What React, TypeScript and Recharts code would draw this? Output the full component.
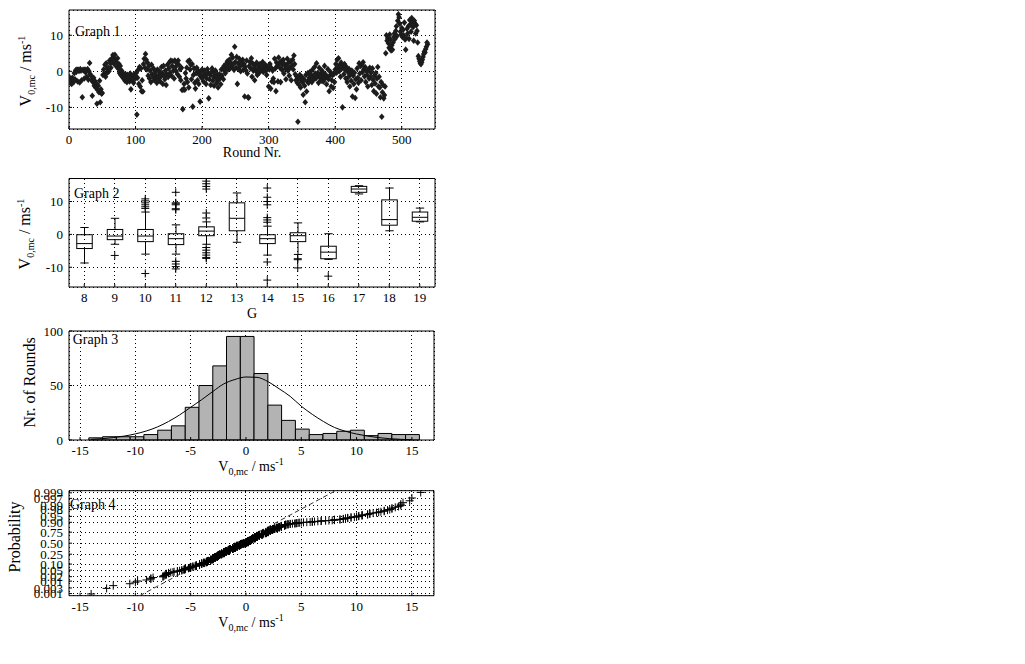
import React from "react";
import {
  ComposedChart,
  Scatter,
  Bar,
  Line,
  XAxis,
  YAxis,
  CartesianGrid,
  ReferenceArea,
  Label,
} from "recharts";

const FONT = '"Liberation Serif", "Times New Roman", Times, serif';

// Graph 1: V0,mc for every round (array index = round number)
const roundValues = [
  -1.5, -2.8, -3.2, -2.4, -3.5, -1.8, -2.6, -3.0, -0.5, -2.2,
  0.3, -0.2, 0.5, -2.8, 0.4, 0.1, -3.1, 0.6, 0.2, -2.5,
  -7.2, 0.4, 0.3, -2.0, 0.5, -0.3, 0.2, -1.5, 0.6, -2.3,
  0.0, 2.3, -0.8, -1.2, -2.5, -6.8, -3.0, -1.8, -4.0, -2.7,
  -4.5, -3.4, -9.0, -5.2, -4.0, -5.8, -2.6, -8.6, -5.0, -6.2,
  -6.0, -1.0, 0.5, -0.8, 1.8, -1.5, 2.2, 0.8, -0.3, 1.0,
  0.0, 3.0, 2.2, 1.0, 3.5, 2.6, 4.5, 3.8, 2.0, 4.6,
  3.2, 2.5, 1.2, 3.6, 0.8, 2.0, -0.5, 1.5, -1.0, 0.2,
  -1.5, -0.4, -2.0, -1.2, -2.6, -0.8, -1.8, -3.0, -1.0, -2.2,
  -1.6, -2.8, -0.6, -5.0, -1.9, -2.4, -1.2, -3.2, -0.8, -1.5,
  -2.0, -0.5, -12.0, -1.8, 0.4, -3.5, 1.2, -4.2, 0.8, -5.5,
  -2.5, -5.6, 2.0, 3.5, 1.0, 4.8, 3.2, 0.5, 2.4, -1.2,
  1.5, -2.0, 0.2, -3.0, 1.8, -0.8, -1.4, 0.8, -2.5, -1.0,
  -0.2, -1.8, -3.2, 0.5, -2.0, -1.0, 0.0, -2.8, -1.5, 1.2,
  -0.5, -3.5, 1.5, -1.2, -2.2, 0.2, -3.8, -0.8, 1.8, -1.6,
  0.8, 2.5, -0.4, 3.0, -1.2, 1.5, 2.8, 0.2, -2.0, 3.0,
  1.2, 0.0, 2.2, -0.8, 3.0, 1.8, -1.5, 0.6, -2.5, 1.0,
  -5.2, -10.5, -5.0, -3.5, -5.1, -0.5, -2.0, 1.0, -3.0, 2.8,
  -4.5, 3.0, 0.5, 1.8, -2.2, 2.0, -9.8, -1.0, 0.8, -3.2,
  -4.8, -0.5, 1.0, -2.5, 0.2, -3.5, -1.0, -8.4, -0.2, -1.8,
  0.5, -1.5, -2.8, -0.8, 0.2, -1.2, -3.5, -2.0, 0.6, -0.5,
  -7.5, -2.2, -1.0, -3.8, -0.2, 0.8, -2.6, -1.5, -4.0, -0.6,
  0.2, -2.0, -3.2, -1.0, -4.5, -2.4, -0.8, -1.8, -3.6, 0.5,
  -1.2, 0.8, -2.2, 1.5, 0.2, -0.5, 2.0, 1.0, 2.8, 0.5,
  1.6, 3.2, 0.8, 2.4, 4.6, 1.2, 3.8, 2.0, 0.4, 6.8,
  2.6, 1.0, 4.0, -3.5, 2.2, 0.6, 3.5, 1.4, 0.0, 2.8,
  1.8, 3.2, 0.4, 2.0, -7.0, 1.2, 0.2, 3.0, -0.6, -7.2,
  -7.3, 1.5, 2.6, 0.8, 3.6, -1.5, 2.2, 0.2, 1.0, -2.5,
  1.8, 0.0, 2.4, -1.0, 0.8, 1.5, -0.4, 2.0, 1.2, 0.4,
  1.0, 2.6, -0.2, 1.4, 0.6, 1.8, 0.2, -1.0, 1.2, 0.8,
  -4.2, 0.5, 2.0, -4.8, 1.0, -2.8, 0.2, -2.0, -3.0, 3.5,
  0.8, -5.5, 2.4, 1.5, -2.8, 3.8, 2.2, 1.0, -3.0, 2.8,
  0.4, 1.8, 3.2, -0.6, 2.0, 0.8, -2.2, 1.5, 3.5, 0.2,
  2.4, -1.2, 1.0, 2.8, -2.5, 1.6, 3.2, 0.5, 4.4, 2.0,
  -0.8, -2.5, -1.4, -3.2, -14.0, -2.0, -3.8, -1.0, -4.5, -2.6,
  -1.6, -3.0, -6.5, -2.2, -4.0, -8.6, -1.0, -5.6, -2.8, -0.5,
  -3.2, -1.8, -0.2, -2.4, -1.0, -3.0, 0.5, -1.6, -2.2, 1.2,
  -0.6, -2.0, 2.2, -1.2, -0.4, -3.2, 1.0, -1.8, -0.8, -2.6,
  0.2, -1.4, -2.8, -0.6, 1.5, -2.0, -1.0, -3.6, -1.6, 0.6,
  -2.2, -5.5, -1.2, -0.2, -4.2, -2.5, -1.0, -4.6, -0.8, -3.0,
  0.5, 2.0, -0.4, 3.2, 1.0, 3.6, 0.0, 1.8, -1.5, 2.4,
  0.8, -10.0, 1.5, -0.8, 2.0, 0.4, -2.0, 1.2, -3.0, -0.2,
  -1.6, 0.6, -4.2, -0.8, -2.6, 0.2, -7.0, -1.2, -3.5, -0.4,
  -7.4, -2.2, -5.0, 0.8, -1.8, -3.2, 2.2, -0.6, 1.5, -2.5,
  1.8, -0.2, 2.5, 0.6, -1.4, 1.2, -3.0, 0.0, -1.0, -4.2,
  0.4, -2.0, 1.0, -1.6, -0.4, -3.8, 0.8, -2.4, -5.5, -1.2,
  -3.4, -0.5, -6.2, -2.0, 1.2, -4.2, -1.5, -4.5, -7.2, -3.0,
  -12.6, -5.8, -3.8, -7.5, -6.6, -4.2, 5.0, 10.0, 8.5, 9.2,
  7.8, 6.5, 10.2, 8.8, 5.8, 7.2, 6.0, 8.0, 9.5, 10.5,
  9.0, 11.2, 12.5, 9.8, 14.0, 15.8, 15.0, 13.2, 11.0, 10.2,
  12.0, 9.5, 11.5, 10.0, 13.5, 8.8, 6.0, 9.2, 11.8, 10.5,
  12.5, 9.0, 14.2, 13.0, 11.0, 14.8, 13.8, 12.2, 8.5, 14.0,
  13.2, 10.5, 12.8, 11.2, 8.0, 4.2, 3.5, 2.8, 2.2, 2.0,
  2.5, 3.2, 4.0, 4.8, 5.5, 5.2, 6.2, 6.8, 8.0, 7.5,
];

// Graph 2: box plot per G
const gValues = [8, 9, 10, 11, 12, 13, 14, 15, 16, 17, 18, 19];
const whiskerHigh = [2.1, 4.9, 6.8, 2.9, 3.8, 12.6, 2.5, 3.5, 0.2, 14.8, 14.1, 8.0];
const q3 = [-0.1, 1.5, 1.5, 0.2, 2.3, 9.6, -0.1, 0.5, -3.6, 14.6, 10.5, 6.8];
const median = [-2.8, -0.5, -0.5, -1.3, 1.0, 4.9, -1.3, -0.4, -5.4, 13.8, 4.5, 5.2];
const q1 = [-4.3, -1.6, -2.2, -3.1, -0.4, 1.1, -2.8, -2.2, -7.4, 12.8, 2.8, 4.0];
const whiskerLow = [-8.7, -3.0, -6.0, -6.0, -3.0, -2.4, -6.3, -6.1, -7.6, 12.3, 1.1, 3.8];
const outliers: [number, number][] = [
  [9, -6.4],
  [10, 10.8], [10, 10.2], [10, 9.6], [10, 9.0], [10, 8.4], [10, 7.9], [10, -11.9],
  [11, 12.8], [11, 9.6], [11, 9.3], [11, 9.0], [11, 7.8], [11, 7.5],
  [11, -8.2], [11, -9.0], [11, -9.8], [11, -10.5],
  [12, 16.2], [12, 15.4], [12, 14.6], [12, 13.8], [12, 6.5], [12, 5.0],
  [12, -4.0], [12, -4.8], [12, -5.6], [12, -6.3], [12, -7.0], [12, -7.3],
  [14, 14.1], [14, 11.3], [14, 10.0], [14, 9.0], [14, 5.1], [14, 4.4], [14, 3.7],
  [14, -8.4], [14, -13.9],
  [15, -7.4], [15, -7.7], [15, -10.2],
  [16, -12.7],
];

// Graph 3: histogram and fitted curve
const binEdges = [
  -14.21, -12.96, -11.72, -10.47, -9.23, -7.98, -6.74, -5.49, -4.25, -3.0, -1.76, -0.51, 0.73,
  1.98, 3.22, 4.47, 5.72, 6.96, 8.21, 9.45, 10.7, 11.94, 13.19, 14.43, 15.68,
];
const binCounts = [2, 3, 3, 3, 5, 9, 13, 30, 50, 68, 95, 95, 61, 32, 18, 10, 5, 6, 8, 9, 4, 6, 5, 5];
const curveX = [-14, -13, -12, -11, -10, -9, -8, -7, -6, -5, -4, -3, -2, -1, 0, 1, 2, 3, 4, 5, 6, 7, 8, 9, 10, 11, 12, 13, 14, 15];
const curveY = [0.6, 1.2, 2.2, 3.6, 5.6, 8.3, 12, 17, 23, 30, 37, 44.5, 51.5, 55.5, 57.8, 57.5, 53.5, 47, 40, 31, 23.5, 17, 11.5, 8, 5.5, 3.6, 2.2, 1.2, 0.6, 0.3];

// Graph 4: normal probability plot
const probTicks = [0.001, 0.003, 0.01, 0.02, 0.05, 0.1, 0.25, 0.5, 0.75, 0.9, 0.95, 0.98, 0.99, 0.997, 0.999];
const probLabels = ["0.001", "0.003", "0.01", "0.02", "0.05", "0.10", "0.25", "0.50", "0.75", "0.90", "0.95", "0.98", "0.99", "0.997", "0.999"];
const refLineV = [-9.6, 8.1];
const refLineZ = [-3.22, 3.22];

// inverse normal cdf (Acklam) for the probability axis
function normInv(p: number) {
  const a = [-39.69683028665376, 220.9460984245205, -275.9285104469687, 138.357751867269, -30.66479806614716, 2.506628277459239];
  const b = [-54.47609879822406, 161.5858368580409, -155.6989798598866, 66.80131188771972, -13.28068155288572];
  const c = [-0.007784894002430293, -0.3223964580411365, -2.400758277161838, -2.549732539343734, 4.374664141464968, 2.938163982698783];
  const d = [0.007784695709041462, 0.3224671290700398, 2.445134137142996, 3.754408661907416];
  const lo = 0.02425;
  if (p < lo) {
    const q = Math.sqrt(-2 * Math.log(p));
    return (((((c[0] * q + c[1]) * q + c[2]) * q + c[3]) * q + c[4]) * q + c[5]) / ((((d[0] * q + d[1]) * q + d[2]) * q + d[3]) * q + 1);
  }
  if (p > 1 - lo) {
    const q = Math.sqrt(-2 * Math.log(1 - p));
    return -(((((c[0] * q + c[1]) * q + c[2]) * q + c[3]) * q + c[4]) * q + c[5]) / ((((d[0] * q + d[1]) * q + d[2]) * q + d[3]) * q + 1);
  }
  const q = p - 0.5;
  const r = q * q;
  return ((((((a[0] * r + a[1]) * r + a[2]) * r + a[3]) * r + a[4]) * r + a[5]) * q) / (((((b[0] * r + b[1]) * r + b[2]) * r + b[3]) * r + b[4]) * r + 1);
}

const tickStyle = { fontFamily: FONT, fontSize: 13, fill: "#000" };
const gridProps = { stroke: "#000", strokeDasharray: "1 3", shapeRendering: "crispEdges" };
const axisCommon = {
  tick: tickStyle,
  tickSize: -3,
  tickMargin: 9,
  tickLine: { stroke: "#000" },
  axisLine: false,
  interval: 0 as const,
};

function vParts() {
  return [
    <tspan key="v">V</tspan>,
    <tspan key="s" dy={4} fontSize={10}>0,mc</tspan>,
    <tspan key="m" dy={-4}>{" / ms"}</tspan>,
    <tspan key="e" dy={-6} fontSize={10}>-1</tspan>,
  ];
}

const yTitle = (x: number, cy: number, body: React.ReactNode) => () => (
  <text x={x} y={cy} transform={`rotate(-90 ${x} ${cy})`} textAnchor="middle" fontFamily={FONT} fontSize={16} fill="#000">
    {body}
  </text>
);

const xTitle = (x: number, y: number, body: React.ReactNode) => () => (
  <text x={x} y={y} textAnchor="middle" fontFamily={FONT} fontSize={14} fill="#000">
    {body}
  </text>
);

const panelTag = (x: number, y: number, t: string) => () => (
  <text x={x} y={y} fontFamily={FONT} fontSize={14} fill="#000">
    {t}
  </text>
);

const Diamond = (p: any) => (
  <path
    d={`M${p.cx},${p.cy - 3.3}L${p.cx + 2.8},${p.cy}L${p.cx},${p.cy + 3.3}L${p.cx - 2.8},${p.cy}Z`}
    fill="#1c1c1c"
  />
);

const Cross = (p: any) => (
  <path d={`M${p.cx - 4},${p.cy}H${p.cx + 4}M${p.cx},${p.cy - 4}V${p.cy + 4}`} stroke="#000" strokeWidth={1} fill="none" />
);

const NoDot = () => <g />;

// draws whiskers, box and median inside the range bar [lo, hi]
const BoxShape = (p: any) => {
  const { x, y, width, height, payload } = p;
  const top = Math.min(y, y + height);
  const bot = Math.max(y, y + height);
  const { lo, hi } = payload;
  const py = (v: number) => bot - ((v - lo) / (hi - lo)) * (bot - top);
  const cx = x + width / 2;
  const bw = width * 0.5;
  const cw = width * 0.27;
  return (
    <g stroke="#000" strokeWidth={1} fill="none">
      <line x1={cx} x2={cx} y1={py(hi)} y2={py(payload.q3)} />
      <line x1={cx} x2={cx} y1={py(payload.q1)} y2={py(lo)} />
      <line x1={cx - cw / 2} x2={cx + cw / 2} y1={py(hi)} y2={py(hi)} />
      <line x1={cx - cw / 2} x2={cx + cw / 2} y1={py(lo)} y2={py(lo)} />
      <rect x={cx - bw / 2} y={py(payload.q3)} width={bw} height={py(payload.q1) - py(payload.q3)} />
      <line x1={cx - bw / 2} x2={cx + bw / 2} y1={py(payload.med)} y2={py(payload.med)} />
    </g>
  );
};

function Graph1() {
  const data = roundValues.map((v, i) => ({ round: i, v }));
  return (
    <ComposedChart width={440} height={165} margin={{ top: 10, right: 5, bottom: 0, left: 0 }} data={data}>
      <CartesianGrid {...gridProps} />
      <XAxis dataKey="round" type="number" domain={[0, 550]} ticks={[0, 100, 200, 300, 400, 500]} allowDataOverflow height={36} {...axisCommon}>
        <Label content={xTitle(252, 157, "Round Nr.")} />
      </XAxis>
      <YAxis type="number" domain={[-16, 17]} ticks={[-10, 0, 10]} allowDataOverflow width={69} {...axisCommon}>
        <Label content={yTitle(31, 71, vParts())} />
      </YAxis>
      <ReferenceArea x1={0} x2={550} y1={-16} y2={17} fill="none" stroke="#000" ifOverflow="visible" label={panelTag(75, 35.5, "Graph 1")} />
      <Scatter data={data} dataKey="v" shape={Diamond} isAnimationActive={false} />
    </ComposedChart>
  );
}

function Graph2() {
  const data = gValues.map((g, i) => ({
    g: String(g),
    lo: whiskerLow[i],
    q1: q1[i],
    med: median[i],
    q3: q3[i],
    hi: whiskerHigh[i],
  }));
  const out = outliers.map(([g, v]) => ({ gn: g, v }));
  return (
    <ComposedChart width={440} height={160} margin={{ top: 13.5, right: 5, bottom: 0, left: 0 }} data={data} barCategoryGap={0} barGap={0}>
      <CartesianGrid {...gridProps} />
      <XAxis dataKey="g" type="category" height={38} {...axisCommon}>
        <Label content={xTitle(252, 153, "G")} />
      </XAxis>
      <XAxis xAxisId="n" dataKey="gn" type="number" domain={[7.5, 19.5]} allowDataOverflow hide />
      <YAxis type="number" domain={[-16, 17]} ticks={[-10, 0, 10]} allowDataOverflow width={69} {...axisCommon}>
        <Label content={yTitle(30, 69, vParts())} />
      </YAxis>
      <ReferenceArea xAxisId="n" x1={7.5} x2={19.5} y1={-16} y2={17} fill="none" stroke="#000" ifOverflow="visible" label={panelTag(74, 33, "Graph 2")} />
      <Bar dataKey={(d: any) => [d.lo, d.hi]} shape={BoxShape} isAnimationActive={false} />
      <Scatter xAxisId="n" data={out} dataKey="v" shape={Cross} isAnimationActive={false} />
    </ComposedChart>
  );
}

function Graph3() {
  const data = curveX.map((x, i) => ({ x, y: curveY[i] }));
  return (
    <ComposedChart width={440} height={155} margin={{ top: 6, right: 6, bottom: 0, left: 0 }} data={data}>
      <CartesianGrid {...gridProps} />
      <XAxis dataKey="x" type="number" domain={[-16, 17]} ticks={[-15, -10, -5, 0, 5, 10, 15]} allowDataOverflow height={40} {...axisCommon}>
        <Label content={xTitle(251, 146, vParts())} />
      </XAxis>
      <YAxis type="number" domain={[0, 100]} ticks={[0, 50, 100]} allowDataOverflow width={69} {...axisCommon}>
        <Label content={yTitle(35, 57.5, "Nr. of Rounds")} />
      </YAxis>
      {binCounts.map((n, i) => (
        <ReferenceArea
          key={i}
          x1={binEdges[i]}
          x2={binEdges[i + 1]}
          y1={0}
          y2={n}
          fill="#b3b3b3"
          fillOpacity={1}
          stroke="#000"
          ifOverflow="visible"
        />
      ))}
      <ReferenceArea x1={-16} x2={17} y1={0} y2={100} fill="none" stroke="#000" ifOverflow="visible" label={panelTag(72.7, 19, "Graph 3")} />
      <Line dataKey="y" type="monotone" stroke="#000" strokeWidth={1} dot={false} isAnimationActive={false} />
    </ComposedChart>
  );
}

function Graph4() {
  const sorted = [...roundValues].sort((a, b) => a - b);
  const n = sorted.length;
  const points = sorted.map((v, i) => ({ v, z: normInv((i + 0.5) / n) }));
  const ref = refLineV.map((v, i) => ({ v, z: refLineZ[i] }));
  const zTicks = probTicks.map(normInv);
  const fmt = (z: number) => {
    const k = zTicks.findIndex((t) => Math.abs(t - z) < 1e-6);
    return k >= 0 ? probLabels[k] : "";
  };
  return (
    <ComposedChart width={440} height={160.7} margin={{ top: 10.7, right: 6, bottom: 0, left: 0 }}>
      <CartesianGrid {...gridProps} />
      <XAxis dataKey="v" type="number" domain={[-16, 17]} ticks={[-15, -10, -5, 0, 5, 10, 15]} allowDataOverflow height={45} {...axisCommon}>
        <Label content={xTitle(251, 147, vParts())} />
      </XAxis>
      <YAxis type="number" domain={[-3.22, 3.22]} ticks={zTicks} tickFormatter={fmt} allowDataOverflow width={69} {...axisCommon}>
        <Label content={yTitle(20, 57, "Probability")} />
      </YAxis>
      <ReferenceArea x1={-16} x2={17} y1={-3.22} y2={3.22} fill="none" stroke="#000" ifOverflow="visible" label={panelTag(70, 29, "Graph 4")} />
      <Scatter
        data={ref}
        dataKey="z"
        shape={NoDot}
        line={{ stroke: "#333", strokeDasharray: "5 3", strokeWidth: 1 }}
        isAnimationActive={false}
      />
      <Scatter data={points} dataKey="z" shape={Cross} isAnimationActive={false} />
    </ComposedChart>
  );
}

export default function App() {
  return (
    <div style={{ position: "absolute", left: 0, top: 0, width: 1025, height: 664, background: "#fff" }}>
      <div style={{ position: "absolute", left: 0, top: 0 }}>
        <Graph1 />
      </div>
      <div style={{ position: "absolute", left: 0, top: 165 }}>
        <Graph2 />
      </div>
      <div style={{ position: "absolute", left: 0, top: 325 }}>
        <Graph3 />
      </div>
      <div style={{ position: "absolute", left: 0, top: 480 }}>
        <Graph4 />
      </div>
    </div>
  );
}
